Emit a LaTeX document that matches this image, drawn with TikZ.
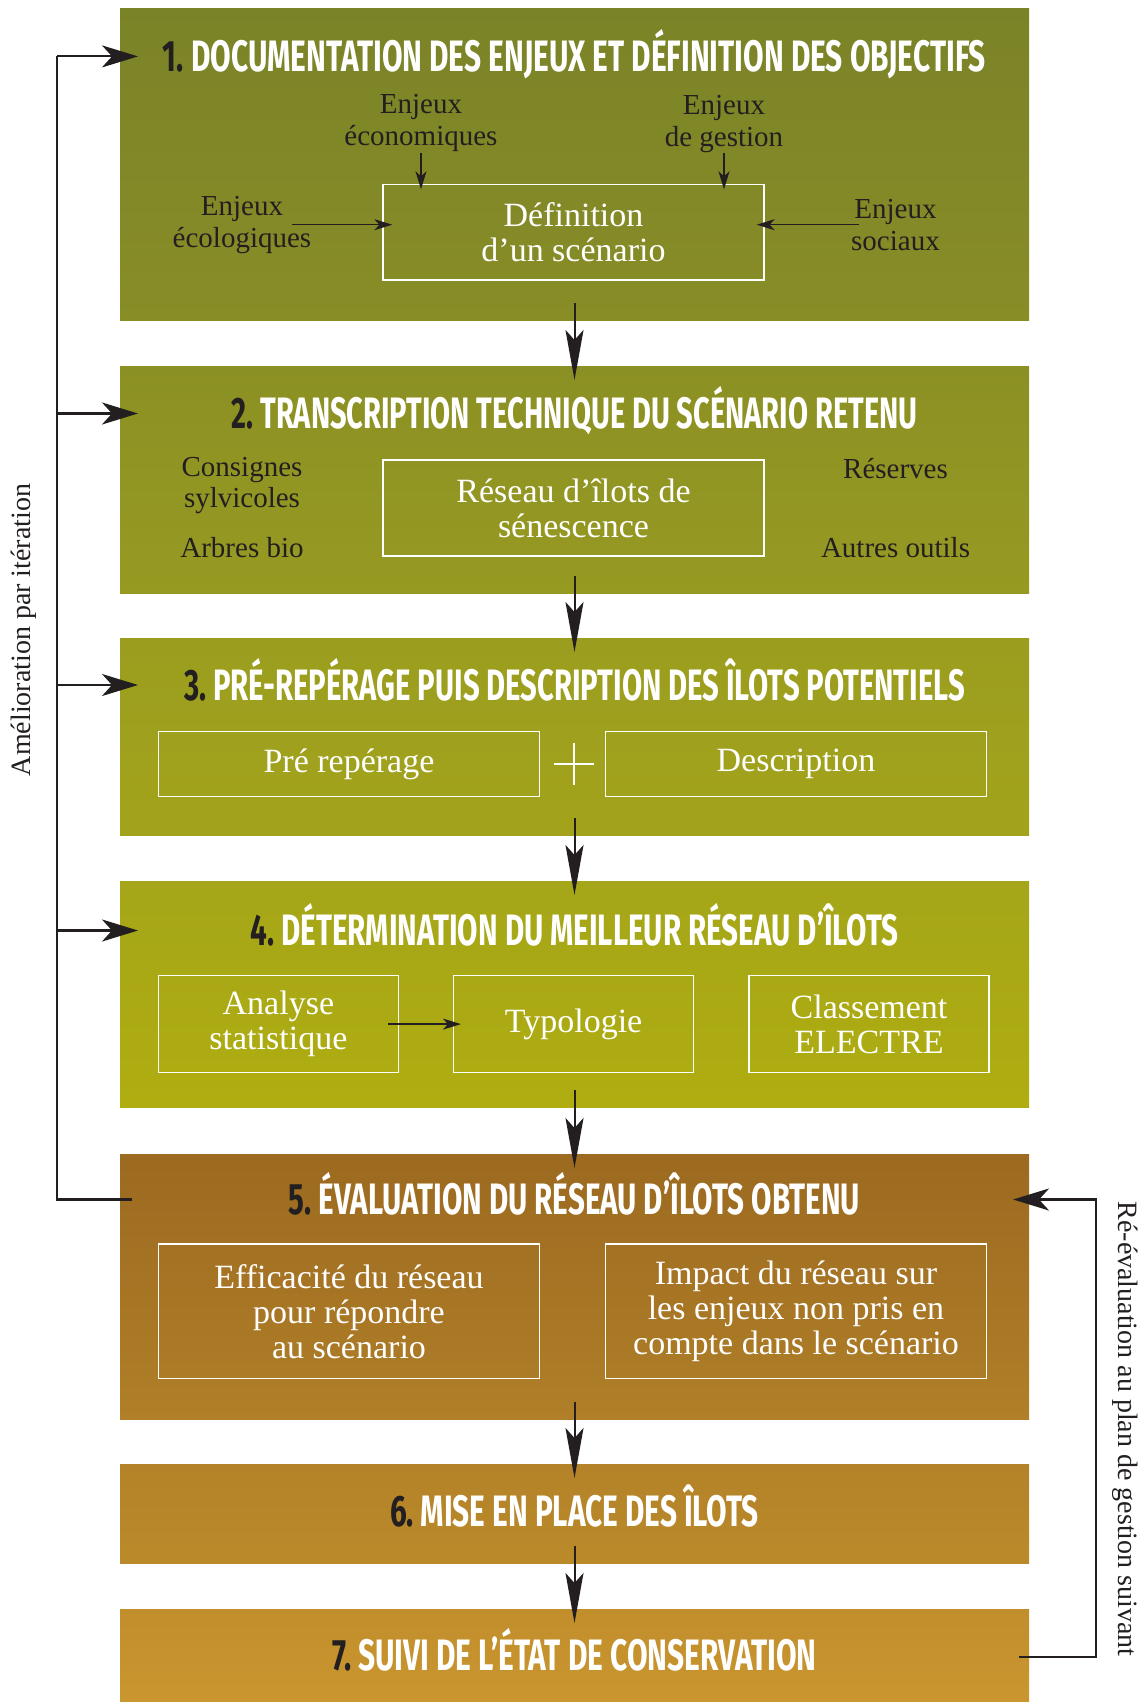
\documentclass[tikz,border=0pt]{standalone}
\usepackage{graphicx}
\usepackage{fontspec}
\setmainfont{Liberation Serif}
\newfontfamily\titlefont{Fira Sans}
\usetikzlibrary{arrows.meta}
\definecolor{ink}{RGB}{35,31,32}
\definecolor{p1t}{RGB}{123,131,40}\definecolor{p1b}{RGB}{136,141,38}
\definecolor{p2t}{RGB}{139,144,36}\definecolor{p2b}{RGB}{151,154,33}
\definecolor{p3t}{RGB}{155,157,31}\definecolor{p3b}{RGB}{163,163,27}
\definecolor{p4t}{RGB}{165,166,25}\definecolor{p4b}{RGB}{175,173,16}
\definecolor{p5t}{RGB}{156,106,32}\definecolor{p5b}{RGB}{176,127,40}
\definecolor{p6t}{RGB}{180,130,40}\definecolor{p6b}{RGB}{186,138,42}
\definecolor{p7t}{RGB}{193,142,44}\definecolor{p7b}{RGB}{201,150,47}
\newcommand\ttl[3]{\resizebox{#1pt}{\height}{\titlefont\bfseries\fontsize{44}{44}\selectfont\textcolor{ink}{#2}\ \textcolor{white}{#3}}}
\newcommand\boxfont{\fontsize{34}{35}\selectfont}
\newcommand\labfont{\fontsize{29}{31.5}\selectfont}
\newcommand\rotfont{\fontsize{28}{31.5}\selectfont}
\tikzset{
  panel/.style={anchor=north west, minimum width=909pt, inner sep=0pt, outer sep=0pt, draw=none},
  ttlnode/.style={anchor=base, inner sep=0pt},
  wbox/.style={draw=white, line width=1.3pt, text=white, align=center, font=\boxfont, inner sep=0pt},
  lab/.style={text=ink, align=center, font=\labfont, inner sep=0pt},
  rot/.style={text=ink, font=\rotfont, inner sep=0pt},
  bigarrow/.style={draw=ink, line width=2pt, -{Stealth[length=50pt,width=18pt,inset=10pt]}},
  smallarrow/.style={draw=ink, line width=1.4pt, -{Stealth[length=18pt,width=11pt,inset=5pt]}},
  fbline/.style={draw=ink, line width=2.2pt},
  fbarrow/.style={draw=ink, line width=2.2pt, -{Stealth[length=36pt,width=22pt,inset=10pt]}},
}
\begin{document}
\begin{tikzpicture}[x=1pt,y=-1pt]
\fill[white] (0,0) rectangle (1144,1702);
\useasboundingbox (0,0) rectangle (1144,1702);

% panels
\node[panel, minimum height=311pt, top color=p1t, bottom color=p1b] (p1) at (120,9) {};
\node[panel, minimum height=227pt, top color=p2t, bottom color=p2b] (p2) at (120,366) {};
\node[panel, minimum height=197pt, top color=p3t, bottom color=p3b] (p3) at (120,638) {};
\node[panel, minimum height=226pt, top color=p4t, bottom color=p4b] (p4) at (120,881) {};
\node[panel, minimum height=265pt, top color=p5t, bottom color=p5b] (p5) at (120,1154) {};
\node[panel, minimum height=99pt, top color=p6t, bottom color=p6b] (p6) at (120,1464) {};
\node[panel, minimum height=93pt, top color=p7t, bottom color=p7b] (p7) at (120,1609) {};

% title centres
\coordinate (c1) at (574.5,56.4);
\coordinate (c2) at (574.5,413.5);
\coordinate (c3) at (574.5,685);
\coordinate (c4) at (574.5,930.5);
\coordinate (c5) at (574.5,1199.5);
\coordinate (c6) at (574.5,1511);
\coordinate (c7) at (574.5,1655);

\node[ttlnode] (t1) at ([yshift=-15pt]c1) {\ttl{823}{1.}{DOCUMENTATION DES ENJEUX ET DÉFINITION DES OBJECTIFS}};
\node[ttlnode] (t2) at ([yshift=-15pt]c2) {\ttl{686}{2.}{TRANSCRIPTION TECHNIQUE DU SCÉNARIO RETENU}};
\node[ttlnode] (t3) at ([yshift=-15pt]c3) {\ttl{781}{3.}{PRÉ-REPÉRAGE PUIS DESCRIPTION DES ÎLOTS POTENTIELS}};
\node[ttlnode] (t4) at ([yshift=-15pt]c4) {\ttl{648}{4.}{DÉTERMINATION DU MEILLEUR RÉSEAU D’ÎLOTS}};
\node[ttlnode] (t5) at ([yshift=-15pt]c5) {\ttl{571}{5.}{ÉVALUATION DU RÉSEAU D’ÎLOTS OBTENU}};
\node[ttlnode] (t6) at ([yshift=-15pt]c6) {\ttl{369}{6.}{MISE EN PLACE DES ÎLOTS}};
\node[ttlnode] (t7) at ([yshift=-15pt]c7) {\ttl{484}{7.}{SUIVI DE L’ÉTAT DE CONSERVATION}};

% panel 1 content
\node[wbox, minimum width=381pt, minimum height=95.5pt] (def) at (573.5,232.2) {Définition\\d’un scénario};
\node[lab] (eco) at (421,123) {Enjeux\\économiques};
\node[lab] (ges) at (724,124) {Enjeux\\de gestion};
\node[lab] (ecol) at (242,225) {Enjeux\\écologiques};
\node[lab] (soc) at (895.5,225) {Enjeux\\sociaux};
\draw[smallarrow] ([xshift=-152.5pt,yshift=30.5pt]def.north) -- ([xshift=-152.5pt,yshift=-5.5pt]def.north);
\draw[smallarrow] ([xshift=150.5pt,yshift=30.5pt]def.north) -- ([xshift=150.5pt,yshift=-5.5pt]def.north);
\draw[smallarrow] ([xshift=-90pt,yshift=7.5pt]def.west) -- ([xshift=10pt,yshift=7.5pt]def.west);
\draw[smallarrow] ([xshift=94pt,yshift=7.5pt]def.east) -- ([xshift=-8pt,yshift=7.5pt]def.east);

% panel 2 content
\node[wbox, minimum width=381pt, minimum height=96pt] (res) at (573.5,508) {Réseau d’îlots de\\sénescence};
\node[lab] (cons) at (242,485.5) {Consignes\\sylvicoles};
\node[lab] (arb) at (242,548) {Arbres bio};
\node[lab] (reserv) at (895.5,469) {Réserves};
\node[lab] (autres) at (895.5,548) {Autres outils};

% panel 3 content
\node[wbox, minimum width=381pt, minimum height=65pt] (pre) at (349,764.2) {Pré repérage};
\node[wbox, minimum width=381pt, minimum height=65pt] (desc) at (796,764.2) {Description};
\coordinate (plus) at (574,764);
\draw[white, line width=1.4pt] ([xshift=-20pt]plus) -- ([xshift=20pt]plus) ([yshift=-21pt]plus) -- ([yshift=21pt]plus);

% panel 4 content
\node[wbox, minimum width=240pt, minimum height=96.6pt] (ana) at (278.4,1024.1) {Analyse\\statistique};
\node[wbox, minimum width=240pt, minimum height=96.6pt] (typ) at (573.6,1024.1) {Typologie};
\node[wbox, minimum width=240pt, minimum height=96.6pt] (cla) at (869,1024.1) {Classement\\ELECTRE};
\draw[smallarrow] ([xshift=-11pt]ana.east) -- ([xshift=8pt]typ.west);

% panel 5 content
\node[wbox, minimum width=381pt, minimum height=134.5pt] (eff) at (349,1311.3) {Efficacité du réseau\\pour répondre\\au scénario};
\node[wbox, minimum width=381pt, minimum height=134.5pt] (imp) at (796,1311.3) {Impact du réseau sur\\les enjeux non pris en\\compte dans le scénario};

% main arrows
\draw[bigarrow] ([yshift=17pt]p1.south) -- ([yshift=-14pt]p2.north);
\draw[bigarrow] ([yshift=17pt]p2.south) -- ([yshift=-14pt]p3.north);
\draw[bigarrow] ([yshift=17pt]p3.south) -- ([yshift=-14pt]p4.north);
\draw[bigarrow] ([yshift=17pt]p4.south) -- ([yshift=-14pt]p5.north);
\draw[bigarrow] ([yshift=17pt]p5.south) -- ([yshift=-14pt]p6.north);
\draw[bigarrow] ([yshift=17pt]p6.south) -- ([yshift=-14pt]p7.north);

% left feedback loop
\coordinate (L5) at (132,1199.5);
\coordinate (Lb) at (57,1199.5);
\coordinate (Lt) at (57,56.4);
\coordinate (ax) at (138,0);
\draw[fbline] (L5) -- (Lb) -- (Lt);
\foreach \c in {c1,c2,c3,c4} \draw[fbarrow] (Lb |- \c) -- (ax |- \c);
\node[rot, rotate=90] (amel) at (24,630) {Amélioration par itération};

% right feedback loop
\coordinate (R7) at (1019,1657);
\coordinate (Rb) at (1096,1657);
\coordinate (Rt) at (1096,1199.5);
\coordinate (R5) at (1013,1199.5);
\draw[fbarrow] (R7) -- (Rb) -- (Rt) -- (R5);
\node[rot, rotate=-90] (reev) at (1125,1429) {Ré-évaluation au plan de gestion suivant};
\end{tikzpicture}
\end{document}
